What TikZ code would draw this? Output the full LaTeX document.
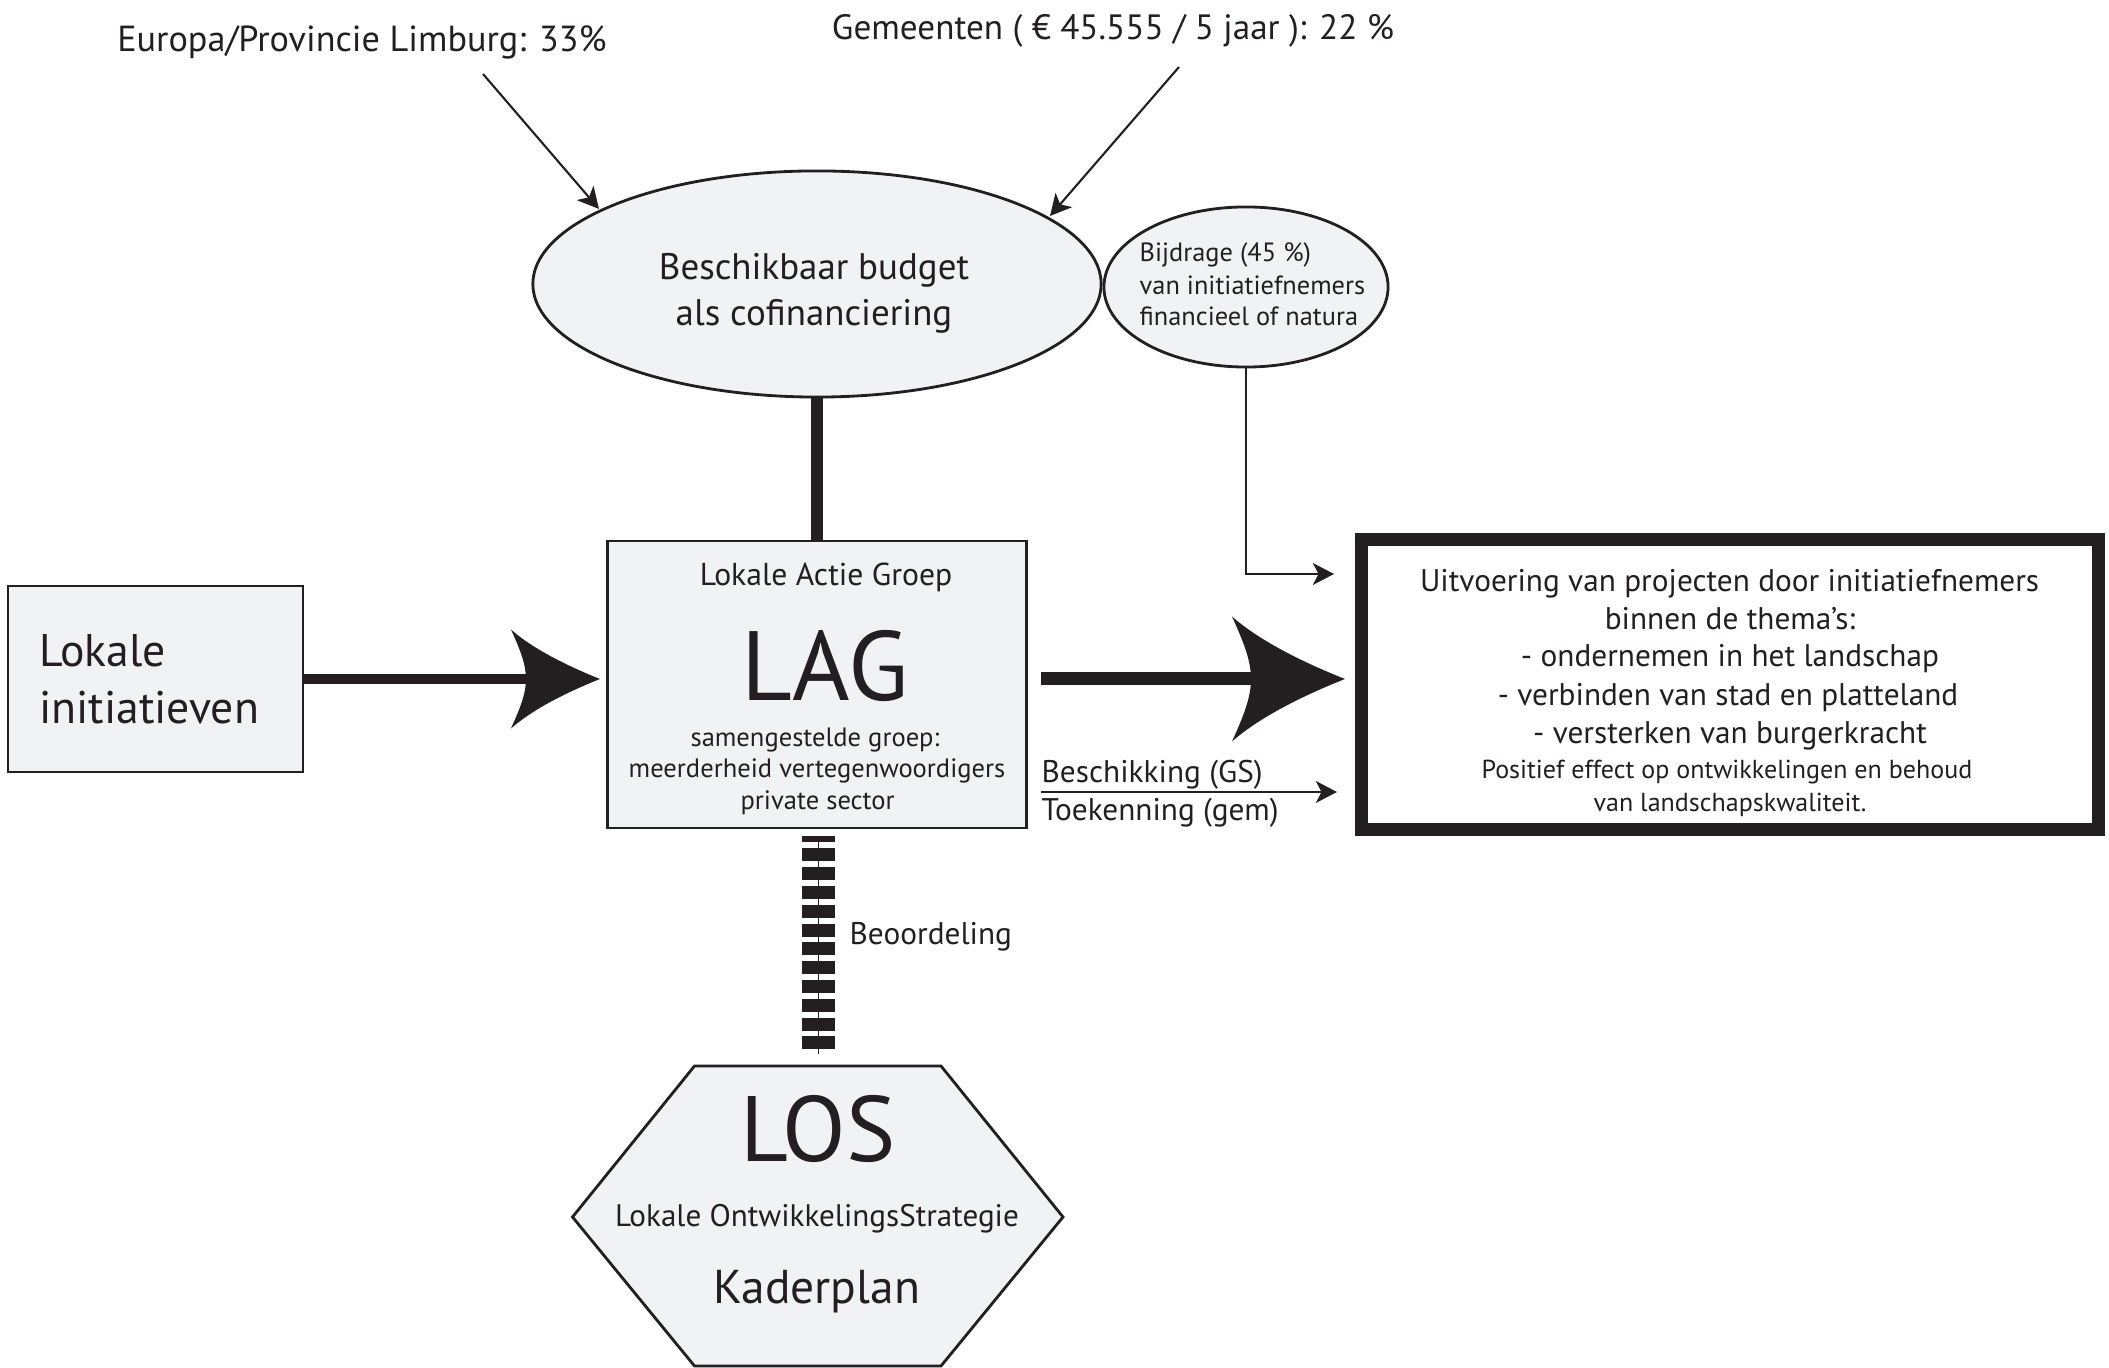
\documentclass[tikz,border=0pt]{standalone}
\usepackage{fontspec}
\setmainfont{PT Sans}
\usetikzlibrary{shapes.geometric,arrows.meta,calc}
\definecolor{ink}{HTML}{231F20}
\definecolor{pale}{HTML}{F1F2F4}
\newcommand{\fs}[1]{\fontsize{#1}{#1}\selectfont}
\newcommand{\fathead}[4]{%
  \fill[ink,shift={(#1)}] (0,0)
    .. controls (-0.35*#2,-0.25*#3) and (-0.75*#2,-0.6*#3) .. (-#2,-#3)
    .. controls (-0.9*#2,-0.6*#3) and (-#4,-0.3*#3) .. (-#4,0)
    .. controls (-#4,0.3*#3) and (-0.9*#2,0.6*#3) .. (-#2,#3)
    .. controls (-0.75*#2,0.6*#3) and (-0.35*#2,0.25*#3) .. (0,0) -- cycle;}
\tikzset{
  ln/.style={inner sep=0pt, text=ink, anchor=base},
  lnw/.style={inner sep=0pt, text=ink, anchor=base west},
  grayshape/.style={draw=ink, fill=pale, line width=0.8pt, inner sep=0pt},
  thinarrow/.style={draw=ink, line width=0.6pt, -{Stealth[length=6pt,width=6.2pt,inset=1.6pt]}},
  fatline/.style={draw=ink, line width=3.3pt},
}
\begin{document}
\begin{tikzpicture}[x=0.01cm,y=-0.01cm]
\useasboundingbox (0,0) rectangle (2109,1368);

% ---- top labels
\node[ln, font=\fs{10.3}] (eur) at (362,51.5) {Europa/Provincie Limburg: 33\%};
\node[ln, font=\fs{10}] (gem) at (1113,39.3) {Gemeenten ( € 45.555 / 5 jaar ): 22 \%};

% ---- ellipses
\node[grayshape, ellipse, minimum width=5.68cm, minimum height=2.26cm] (budget) at (817,284) {};
\node[ln, font=\fs{10.5}] (bud1) at (814,280) {Beschikbaar budget};
\node[ln, font=\fs{10.5}] (bud2) at (814,326) {als cofinanciering};

\node[grayshape, ellipse, minimum width=2.84cm, minimum height=1.60cm] (bijd) at (1246,287) {};
\node[lnw, font=\fs{7.5}] (bij1) at (1139,261.2) {Bijdrage (45 \%)};
\node[lnw, font=\fs{7.5}] (bij2) at (1139,294.2) {van initiatiefnemers};
\node[lnw, font=\fs{7.5}] (bij3) at (1139,325.2) {financieel of natura};

% ---- Lokale initiatieven
\node[grayshape, rectangle, minimum width=2.95cm, minimum height=1.86cm] (li) at (155.5,679) {};
\node[lnw, font=\fs{13}] (li1) at (38.6,667) {Lokale};
\node[lnw, font=\fs{13}] (li2) at (38.6,724) {initiatieven};

% ---- LAG
\node[grayshape, rectangle, minimum width=4.18cm, minimum height=2.87cm] (lag) at (817,684.5) {};
\node[ln, font=\fs{9}] (lag1) at (826,586) {Lokale Actie Groep};
\node[ln, font=\fs{28}] (lag2) at (825,701) {LAG};
\node[ln, font=\fs{7.55}] (lag3) at (815,746.3) {samengestelde groep:};
\node[ln, font=\fs{7.55}] (lag4) at (817,777.8) {meerderheid vertegenwoordigers};
\node[ln, font=\fs{7.55}] (lag5) at (817.6,809.9) {private sector};

% ---- Uitvoering
\node[draw=ink, line width=3.7pt, fill=white, rectangle, inner sep=0pt,
      minimum width=7.37cm, minimum height=2.895cm] (uit) at (1730,684.75) {};
\node[ln, font=\fs{8.9}] (u1) at (1729.6,591.5) {Uitvoering van projecten door initiatiefnemers};
\node[ln, font=\fs{8.9}] (u2) at (1730,629.9) {binnen de thema’s:};
\node[ln, font=\fs{8.9}] (u3) at (1730,666.6) {- ondernemen in het landschap};
\node[ln, font=\fs{8.9}] (u4) at (1728,705.5) {- verbinden van stad en platteland};
\node[ln, font=\fs{8.9}] (u5) at (1730,743.9) {- versterken van burgerkracht};
\node[ln, font=\fs{7.4}] (u6) at (1727,778.4) {Positief effect op ontwikkelingen en behoud};
\node[ln, font=\fs{7.4}] (u7) at (1730,811.5) {van landschapskwaliteit.};

% ---- LOS hexagon
\coordinate (hexT) at (817.75,1066);
\filldraw[draw=ink, fill=pale, line width=0.8pt]
  (694.5,1066) -- (941,1066) -- (1063,1217) -- (941,1366) -- (694.5,1366) -- (572.5,1217) -- cycle;
\node[ln, font=\fs{26.4}] (los1) at (818,1162) {LOS};
\node[ln, font=\fs{8.85}] (los2) at (817,1226) {Lokale OntwikkelingsStrategie};
\node[ln, font=\fs{13.5}] (los3) at (817,1304) {Kaderplan};

% ---- connectors
\coordinate (a1s) at (483,74);
\coordinate (a1e) at (599,209);
\coordinate (a2s) at (1179,67);
\coordinate (a2e) at (1050,216);
\draw[thinarrow] (a1s) -- (a1e);
\draw[thinarrow] (a2s) -- (a2e);

% budget to LAG
\draw[fatline] (budget.south) -- (lag.north);

% Bijdrage to Uitvoering
\coordinate (bjt) at (1334,574);
\draw[thinarrow] (bijd.south) |- (bjt);

% Lokale initiatieven -> LAG
\coordinate (t1) at (600,679);
\draw[draw=ink, line width=3.1pt] (li.east |- t1) -- ($(t1)+(-70,0)$);
\fathead{t1}{89}{49.5}{74}

% LAG -> Uitvoering
\coordinate (s2) at (1041,679);
\coordinate (t2) at (1345,679);
\draw[draw=ink, line width=3.7pt] (s2) -- ($(t2)+(-90,0)$);
\fathead{t2}{113}{62.5}{94}

% Beschikking / Toekenning
\coordinate (s3) at (1041,792);
\coordinate (t3) at (1337,792);
\draw[thinarrow] (s3) -- (t3);
\node[lnw, font=\fs{8.9}] (besch) at (1041,783) {Beschikking (GS)};
\node[lnw, font=\fs{8.9}] (toek) at (1041,821) {Toekenning (gem)};

% Beoordeling ladder
\coordinate (ldT) at (818.5,836);
\coordinate (ldB) at (818.5,1054);
\draw[draw=ink, line width=9.3pt, dash pattern=on 3.7pt off 1.65pt, dash phase=1.85pt] (ldT) -- (ldB);
\draw[draw=ink, line width=0.5pt] (ldT) -- (ldB);
\node[lnw, font=\fs{8.9}] (beo) at (849,945) {Beoordeling};
\end{tikzpicture}
\end{document}
